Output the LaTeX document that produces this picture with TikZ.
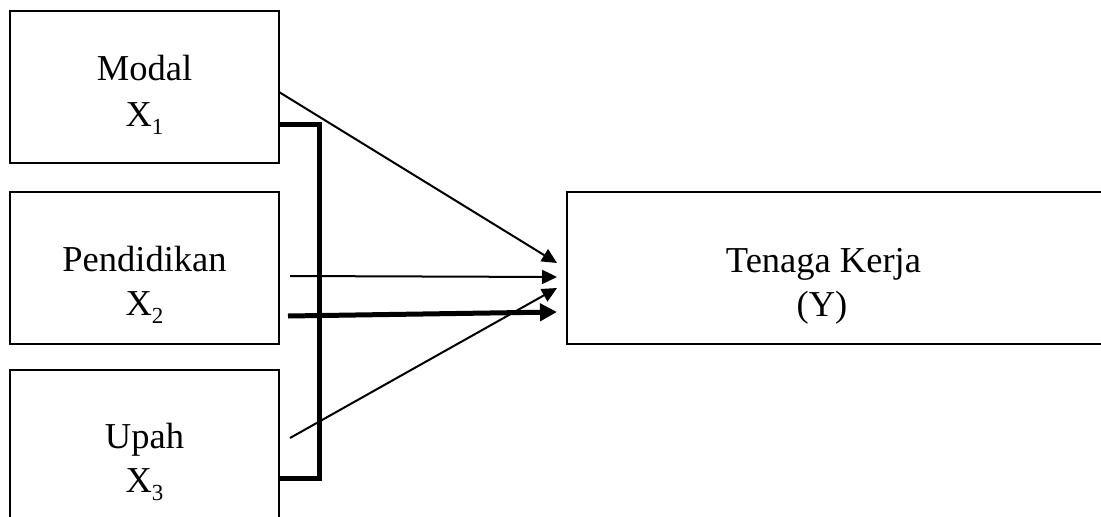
\documentclass[tikz,border=0pt]{standalone}
\usepackage{fontspec}
\setmainfont{Liberation Serif}
\usetikzlibrary{arrows.meta}
\newcommand{\sbs}[1]{\raisebox{-0.22em}{\fontsize{23}{23}\selectfont #1}}
\begin{document}
\begin{tikzpicture}[x=1pt,y=-1pt,
  boxnode/.style={draw=black,line width=2pt,rectangle,inner sep=0pt,outer sep=0pt},
  txt/.style={anchor=base,inner sep=0pt,font=\fontsize{36.5}{36.5}\selectfont},
  thinarrow/.style={line width=2pt,-{Triangle[length=15pt,width=14pt]}},
  thickarrow/.style={line width=5pt,-{Triangle[length=17pt,width=17pt]}},
  bracket/.style={line width=5pt,miter limit=10}]
\useasboundingbox (0,0) rectangle (1101,517);
\clip (0,0) rectangle (1101,517);
\node[boxnode,minimum width=269pt,minimum height=152pt] (b1) at (144.5,87) {};
\node[boxnode,minimum width=269pt,minimum height=152pt] (b2) at (144.5,268) {};
\node[boxnode,minimum width=269pt,minimum height=190pt] (b3) at (144.5,465) {};
\node[boxnode,minimum width=563pt,minimum height=152pt] (by) at (848.5,268) {};
\node[txt] (t1a) at (144.5,80) {Modal};
\node[txt] (t1b) at (144.5,126) {X\sbs{1}};
\node[txt] (t2a) at (144.5,271) {Pendidikan};
\node[txt] (t2b) at (144.5,315) {X\sbs{2}};
\node[txt] (t3a) at (144.5,448) {Upah};
\node[txt] (t3b) at (144.5,492) {X\sbs{3}};
\node[txt] (tya) at (823.5,272) {Tenaga Kerja};
\node[txt] (tyb) at (822,316) {(Y)};
\coordinate (s1) at (b1.east |- 0,92);
\coordinate (s2) at (290,276);
\coordinate (s3) at (288,316);
\coordinate (s4) at (290,438);
\coordinate (e1) at (557,263);
\coordinate (e2) at (557,277);
\coordinate (e3) at (557,312);
\coordinate (e4) at (557,288);
\coordinate (k1) at (b1.east |- 0,124);
\coordinate (k2) at (319,124);
\coordinate (k3) at (319,478);
\coordinate (k4) at (b3.east |- 0,478);
\draw[bracket] (k1) -- (k2) -- (k3) -- (k4);
\draw[thinarrow] (s1) -- (e1);
\draw[thinarrow] (s2) -- (e2);
\draw[thickarrow] (s3) -- (e3);
\draw[thinarrow] (s4) -- (e4);
\end{tikzpicture}
\end{document}
